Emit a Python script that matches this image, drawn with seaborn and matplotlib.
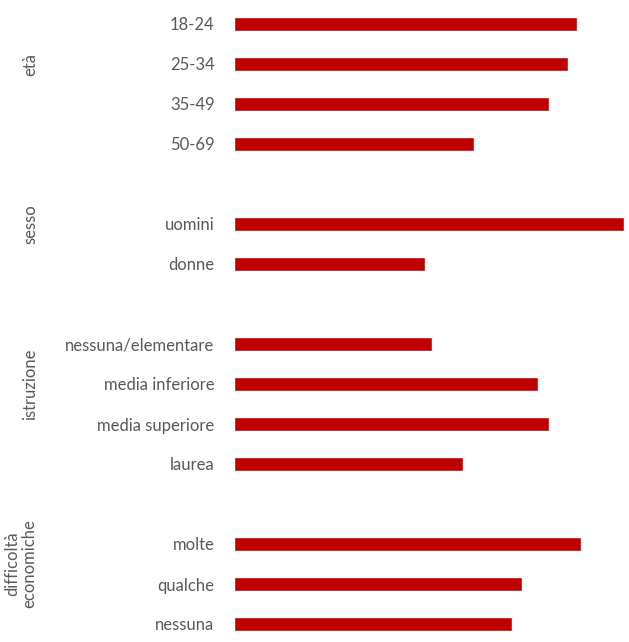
import matplotlib
matplotlib.use("Agg")
import matplotlib.pyplot as plt
import matplotlib.transforms as mtransforms
import seaborn as sns
import pandas as pd

# Data
eta_labels = ["18-24", "25-34", "35-49", "50-69"]
eta_values = [34.3, 33.4, 31.5, 24.0]
sesso_labels = ["uomini", "donne"]
sesso_values = [39.0, 19.1]
istruzione_labels = ["nessuna/elementare", "media inferiore", "media superiore", "laurea"]
istruzione_values = [19.8, 30.4, 31.5, 22.9]
difficolta_labels = ["molte", "qualche", "nessuna"]
difficolta_values = [34.7, 28.8, 27.8]

group_names = ["età", "sesso", "istruzione", "difficoltà\neconomiche"]
groups = [
    (eta_labels, eta_values),
    (sesso_labels, sesso_values),
    (istruzione_labels, istruzione_values),
    (difficolta_labels, difficolta_values),
]

rows = []
order = []
group_spans = []
gap = 0
for gi, (labs, vals) in enumerate(groups):
    if gi > 0:
        gap += 1
        order.append(" " * gap)
    start = len(order)
    for l, v in zip(labs, vals):
        rows.append({"categoria": l, "valore": v})
        order.append(l)
    group_spans.append((start, len(order) - 1))
df = pd.DataFrame(rows)

sns.set_style("white")
plt.rcParams["font.family"] = ["Lato", "DejaVu Sans"]

fig = plt.figure(figsize=(6.29, 6.42), dpi=100)
ax = fig.add_axes([234 / 629, 0, 1 - 234 / 629, 1])

sns.barplot(data=df, x="valore", y="categoria", order=order, orient="h",
            color="#C00000", saturation=1, width=0.35, ax=ax)

ax.set_xlim(0, 39.5)
ax.set_ylim(len(order) - 1 + 18 / 40, -24 / 40)
ax.set_xlabel("")
ax.set_ylabel("")
ax.set_xticks([])
for s in ax.spines.values():
    s.set_visible(False)
ax.tick_params(axis="y", length=0, pad=14, labelsize=12, labelcolor="#595959")

trans = mtransforms.blended_transform_factory(fig.transFigure, ax.transData)
for name, (a, b) in zip(group_names, group_spans):
    yc = (a + b) / 2 - 0.5
    xc = 30 / 629 if "\n" not in name else 21 / 629
    ax.text(xc, yc, name, transform=trans, rotation=90, ha="center", va="center",
            fontsize=12, color="#595959", multialignment="center", linespacing=1.05)

fig.savefig("out.png", dpi=100)
